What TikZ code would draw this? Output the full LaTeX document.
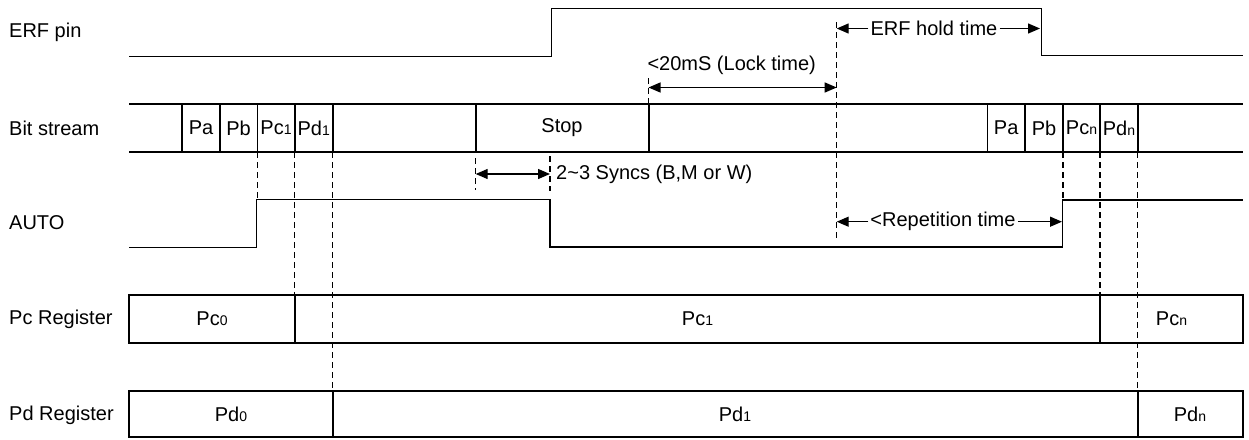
\documentclass[tikz,border=0pt]{standalone}
\usepackage{fontspec}
\setmainfont{Liberation Sans}
\usetikzlibrary{arrows.meta}
\newcommand{\sbx}[1]{{\fontsize{14}{14}\selectfont #1}}
\tikzset{
  sig/.style={line width=1.6pt, line join=miter},
  dashv/.style={line width=1.1pt, dash pattern=on 6pt off 4pt},
  dim/.style={line width=1.3pt, {Triangle[length=12pt,width=10pt]}-{Triangle[length=12pt,width=10pt]}},
  dimr/.style={line width=1.3pt, -{Triangle[length=12pt,width=10pt]}},
  lbl/.style={font=\fontsize{20}{24}\selectfont, inner sep=0pt},
  dlbl/.style={font=\fontsize{20}{24}\selectfont, inner sep=2pt},
}
\begin{document}
\begin{tikzpicture}[x=1pt,y=-1pt]
\useasboundingbox (0,0) rectangle (1249,439);
% row labels
\node[lbl,anchor=west] (lerf) at (9,32) {ERF pin};
\node[lbl,anchor=west] (lbit) at (9,128) {Bit stream};
\node[lbl,anchor=west] (lauto) at (9,223) {AUTO};
\node[lbl,anchor=west] (lpc) at (9,319) {Pc Register};
\node[lbl,anchor=west] (lpd) at (9,415) {Pd Register};
% ERF pin
\draw[sig] (129,56.5) -- (551.5,56.5) -- (551.5,8.5) -- (1041.5,8.5) -- (1041.5,55.5) -- (1243,55.5);
% Bit stream
\draw[sig] (129,104) -- (1243,104);
\draw[sig] (129,152) -- (1243,152);
\foreach \xx in {181.7,220,257.3,294.7,332.7,475.7,649,987.3,1025,1063,1100,1137.7}
  \draw[sig] (\xx,104) -- (\xx,152);
\node[lbl] (pa1) at (201,128) {Pa};
\node[lbl] (pb1) at (238.6,128) {Pb};
\node[lbl] (pc1) at (276,128) {Pc\sbx{1}};
\node[lbl] (pd1) at (313.7,128) {Pd\sbx{1}};
\node[lbl] (stop) at (562,128) {Stop};
\node[lbl] (pa2) at (1006.2,128) {Pa};
\node[lbl] (pb2) at (1044,128) {Pb};
\node[lbl] (pcn) at (1081.5,128) {Pc\sbx{n}};
\node[lbl] (pdn) at (1119,128) {Pd\sbx{n}};
% AUTO
\draw[sig] (129,247.3) -- (256.5,247.3) -- (256.5,199.5) -- (550,199.5) -- (550,247) -- (1062.5,247) -- (1062.5,200) -- (1243,200);
% Registers
\draw[sig] (129,295) rectangle (1243,343);
\draw[sig] (295,295) -- (295,343);
\draw[sig] (1100,295) -- (1100,343);
\draw[sig] (129,391) rectangle (1243,437);
\draw[sig] (332.7,391) -- (332.7,437);
\draw[sig] (1137.7,391) -- (1137.7,437);
\node[lbl] (rpc0) at (212,319) {Pc\sbx{0}};
\node[lbl] (rpc1) at (697.5,319) {Pc\sbx{1}};
\node[lbl] (rpcn) at (1171.5,319) {Pc\sbx{n}};
\node[lbl] (rpd0) at (231,414) {Pd\sbx{0}};
\node[lbl] (rpd1) at (735,414) {Pd\sbx{1}};
\node[lbl] (rpdn) at (1190,414) {Pd\sbx{n}};
% dashed guides
\draw[dashv] (257.3,152) -- (257.3,199.5);
\draw[dashv] (294.7,152) -- (294.7,295);
\draw[dashv] (332.7,152) -- (332.7,391);
\draw[dashv] (1063,152) -- (1063,200);
\draw[dashv] (1100,152) -- (1100,295);
\draw[dashv] (1137.7,152) -- (1137.7,391);
\draw[dashv] (475.7,158) -- (475.7,190);
\draw[dashv] (550,156) -- (550,191);
\draw[dashv] (648.5,78) -- (648.5,104);
\draw[dashv] (836.7,22) -- (836.7,238);
% dimension: syncs
\coordinate (s1) at (475.7,174);
\coordinate (s2) at (550,174);
\draw[dim] (s1) -- (s2);
\node[lbl,anchor=west] (synctxt) at (556,174) {2\textasciitilde3 Syncs (B,M or W)};
% dimension: lock time
\coordinate (k1) at (648.5,87.5);
\coordinate (k2) at (836.7,87.5);
\draw[dim] (k1) -- (k2);
\node[lbl] (locktxt) at (731.7,65) {<20mS (Lock time)};
% dimension: ERF hold time
\node[dlbl] (holdtxt) at (934,28.5) {ERF hold time};
\coordinate (h1) at (836.7,28.5);
\coordinate (h2) at (1040,28.5);
\draw[dimr] (holdtxt.west) -- (h1);
\draw[dimr] (holdtxt.east) -- (h2);
% dimension: repetition time
\node[dlbl] (reptxt) at (943,221.7) {<Repetition time};
\coordinate (r1) at (836.7,221.7);
\coordinate (r2) at (1062,221.7);
\draw[dimr] (reptxt.west) -- (r1);
\draw[dimr] (reptxt.east) -- (r2);
\end{tikzpicture}
\end{document}
